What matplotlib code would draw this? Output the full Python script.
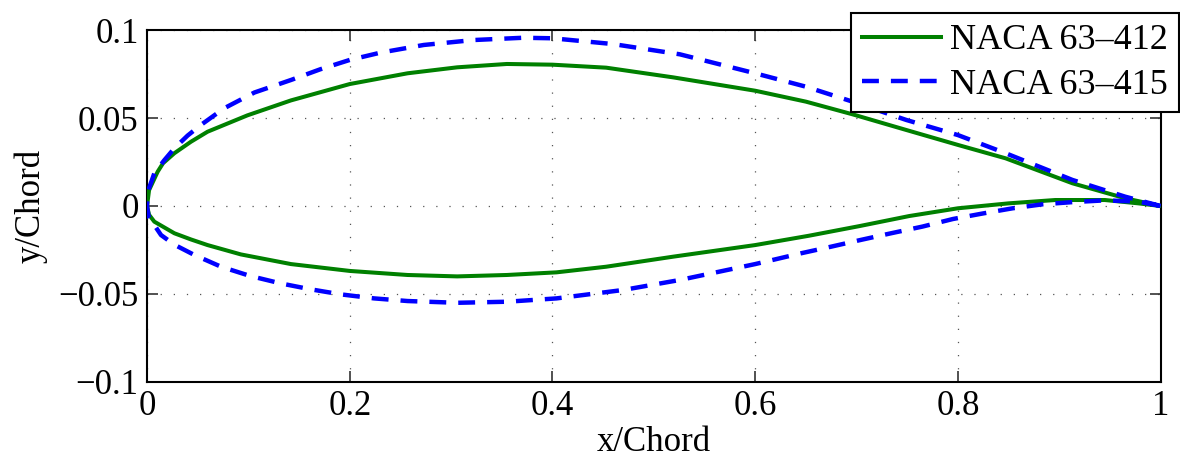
import matplotlib
matplotlib.use("Agg")
import matplotlib.pyplot as plt
import numpy as np

# NACA 63-412 surface coordinates (x/c, y/c)
x_upper_412 = [0.0, 0.002, 0.0105, 0.0158, 0.027, 0.0433, 0.0597, 0.099, 0.142, 0.2, 0.257, 0.306,
               0.355, 0.4, 0.453, 0.519, 0.6, 0.65, 0.696, 0.749, 0.8, 0.847, 0.913, 0.965, 1.0]
y_upper_412 = [0.0, 0.009, 0.0195, 0.0243, 0.030, 0.0365, 0.0422, 0.0515, 0.060, 0.0693, 0.0754, 0.0788,
               0.0807, 0.0803, 0.0786, 0.0731, 0.0655, 0.0593, 0.0521, 0.0432, 0.0347, 0.0271, 0.0129, 0.0044, 0.0]
x_lower_412 = [0.0, 0.002, 0.0072, 0.027, 0.0433, 0.0597, 0.0925, 0.142, 0.2, 0.257, 0.306, 0.355,
               0.404, 0.453, 0.519, 0.6, 0.653, 0.703, 0.752, 0.8, 0.85, 0.896, 0.945, 0.978, 1.0]
y_lower_412 = [0.0, -0.005, -0.0089, -0.0155, -0.019, -0.0222, -0.0275, -0.033, -0.0369, -0.0392, -0.040, -0.0392,
               -0.0377, -0.0345, -0.0288, -0.0222, -0.0169, -0.0114, -0.0057, -0.0013, 0.0015, 0.0034, 0.0034, 0.0015, 0.0]

# NACA 63-415 surface coordinates (x/c, y/c)
x_upper_415 = [0.0, 0.0007, 0.0072, 0.017, 0.027, 0.04, 0.053, 0.076, 0.106, 0.142, 0.171, 0.2, 0.23, 0.273,
               0.322, 0.371, 0.4, 0.46, 0.5256, 0.6, 0.65, 0.696, 0.749, 0.8, 0.847, 0.913, 0.965, 1.0]
y_upper_415 = [0.0, 0.008, 0.0186, 0.026, 0.0328, 0.040, 0.046, 0.0555, 0.0645, 0.0716, 0.0777, 0.083, 0.0871, 0.0915,
               0.0943, 0.0956, 0.0953, 0.092, 0.0862, 0.0754, 0.0678, 0.0593, 0.0489, 0.0403, 0.030, 0.0148, 0.0053, 0.0]
x_lower_415 = [0.0, 0.0015, 0.0138, 0.027, 0.0466, 0.073, 0.102, 0.132, 0.161, 0.191, 0.224, 0.257, 0.306,
               0.355, 0.404, 0.47, 0.526, 0.6, 0.645, 0.675, 0.704, 0.734, 0.765, 0.795, 0.825, 0.854,
               0.884, 0.913, 0.945, 0.978, 1.0]
y_lower_415 = [0.0, -0.006, -0.0165, -0.022, -0.0278, -0.0345, -0.0398, -0.044, -0.0473, -0.0502, -0.0525, -0.054, -0.055,
               -0.0544, -0.0525, -0.0477, -0.042, -0.0330, -0.0269, -0.0231, -0.0193, -0.0155, -0.0117, -0.0074, -0.0042, -0.0013,
               0.001, 0.0022, 0.0032, 0.0025, 0.0]

labels = ["NACA 63\u2013412", "NACA 63\u2013415"]

x_ticks = [0, 0.2, 0.4, 0.6, 0.8, 1.0]
x_tick_labels = ["0", "0.2", "0.4", "0.6", "0.8", "1"]
y_ticks = [-0.1, -0.05, 0, 0.05, 0.1]
y_tick_labels = ["\u22120.1", "\u22120.05", "0", "0.05", "0.1"]

plt.rcParams["font.family"] = ["Liberation Serif", "DejaVu Serif"]

fig = plt.figure(figsize=(11.8, 4.61), dpi=100)
ax = fig.add_axes([0.1246, 0.1714, 0.8590, 0.7635])


def closed_outline(xu, yu, xl, yl):
    # trailing edge -> leading edge along the upper surface, then back along the lower
    xs = list(reversed(xu)) + list(xl[1:])
    ys = list(reversed(yu)) + list(yl[1:])
    return np.array(xs), np.array(ys)


x412, y412 = closed_outline(x_upper_412, y_upper_412, x_lower_412, y_lower_412)
x415, y415 = closed_outline(x_upper_415, y_upper_415, x_lower_415, y_lower_415)

ax.plot(x412, y412, color="#008000", lw=2.9, solid_joinstyle="round", label=labels[0], zorder=3)
ax.plot(x415, y415, color="#0000ff", lw=3.2, dashes=(3.8, 2.7), label=labels[1], zorder=4)

ax.set_xlim(0, 1)
ax.set_ylim(-0.1, 0.1)
ax.set_xticks(x_ticks)
ax.set_xticklabels(x_tick_labels)
ax.set_yticks(y_ticks)
ax.set_yticklabels(y_tick_labels)

ax.tick_params(direction="in", length=8, width=1.2, top=True, right=True,
               labelsize=25, pad=6, color="#333333")
for s in ax.spines.values():
    s.set_linewidth(1.5)
    s.set_color("black")

ax.grid(True, color="#555555", lw=0.9, linestyle=(0, (1, 9.5)))
ax.set_axisbelow(True)

ax.set_xlabel("x/Chord", fontsize=25, labelpad=2)
ax.set_ylabel("y/Chord", fontsize=25, labelpad=8)

leg = ax.legend(loc="upper right", bbox_to_anchor=(1.018, 1.0474), borderaxespad=0,
                fontsize=26, fancybox=False, framealpha=1, edgecolor="black",
                handlelength=2.2, handletextpad=0.25, borderpad=0.3, labelspacing=0.3)
leg.get_frame().set_linewidth(1.5)

fig.savefig("out.png", dpi=100)
